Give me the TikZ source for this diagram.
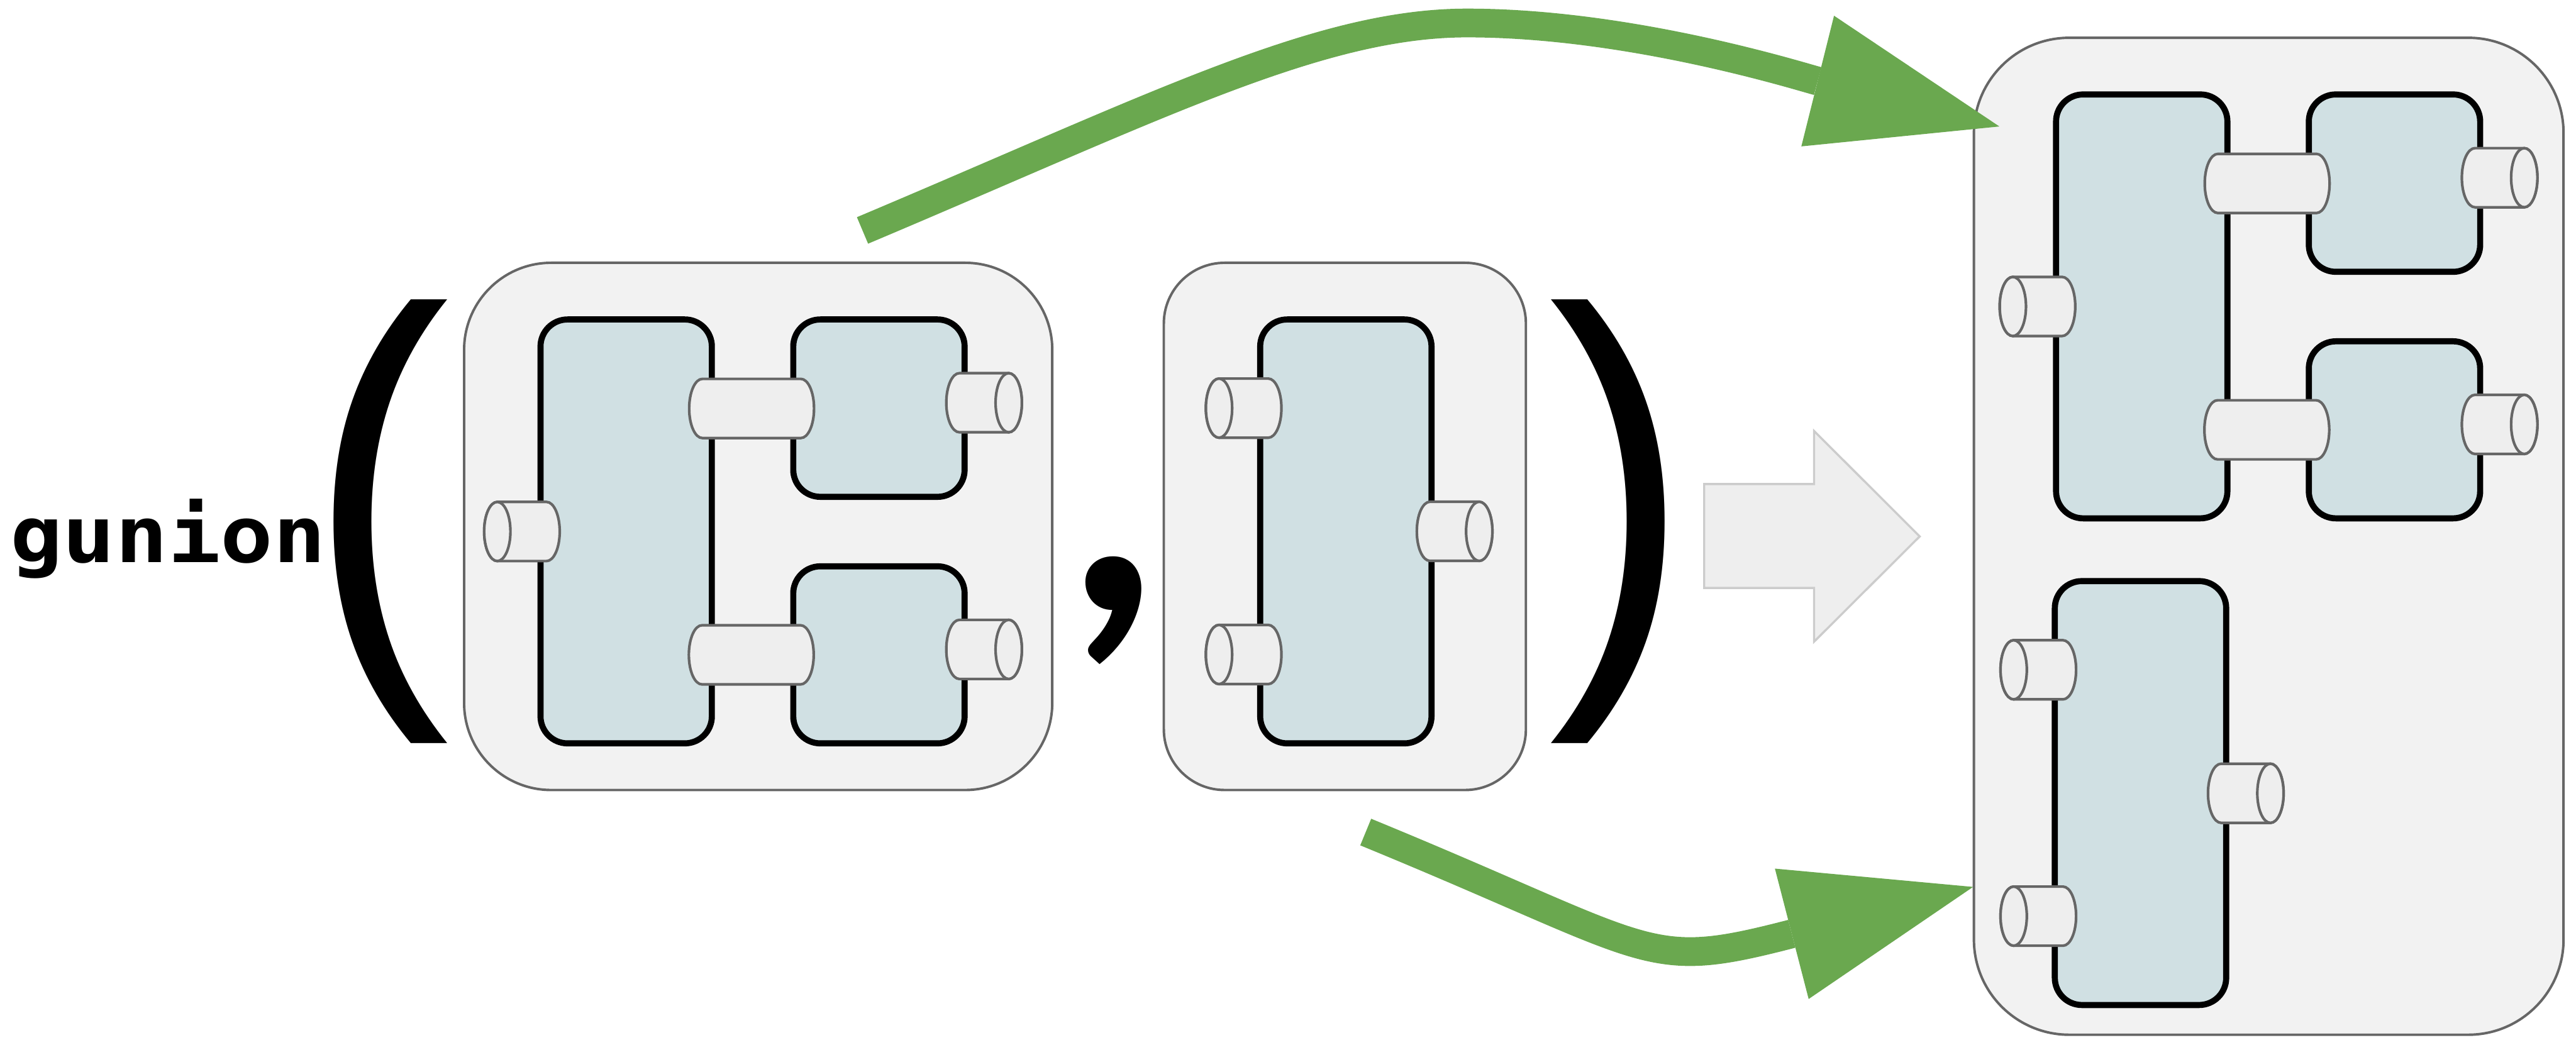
\documentclass[tikz,border=0pt]{standalone}
\usepackage{fontspec}
\usepackage{tikz}
\usetikzlibrary{arrows.meta,positioning}
\newfontfamily\codefont{DejaVu Sans Mono}
\newfontfamily\parenfont{Liberation Sans}
\newfontfamily\commafont{Lato}
\definecolor{GrpF}{HTML}{F2F2F2}
\definecolor{GrpD}{HTML}{666666}
\definecolor{CmpF}{HTML}{D0E0E3}
\definecolor{PrtF}{HTML}{EEEEEE}
\definecolor{Leaf}{HTML}{6AA84F}
\definecolor{ArrD}{HTML}{CCCCCC}

\begin{document}
\begin{tikzpicture}[x=1pt,y=-1pt,
    grp/.style={draw=GrpD,fill=GrpF,line width=1.5pt,inner sep=0pt},
    cmp/.style={draw=black,fill=CmpF,line width=3.7pt,rounded corners=16.5pt,
      inner sep=0pt,minimum width=104.3pt},
    prt/.style={draw=GrpD,fill=PrtF,line width=1.6pt},
    flow/.style={draw=Leaf,line width=17.5pt,
      -{Triangle[length=114pt,width=82pt,line width=0pt]}},
    punct/.style={inner sep=0pt},
    paren/.style={punct,xscale=0.9,font={\parenfont\fontsize{290}{300}\selectfont}},
    port/.pic={
      \filldraw[prt] (-15,-18) -- (15,-18) arc[start angle=-90,end angle=90,x radius=8,y radius=18]
        -- (-15,18) arc[start angle=90,end angle=270,x radius=8,y radius=18] -- cycle;
      \draw[prt] (15,0) ellipse[x radius=8,y radius=18];
    },
    link/.pic={
      \filldraw[prt] (-30,-18) -- (30,-18) arc[start angle=-90,end angle=90,x radius=8,y radius=18]
        -- (-30,18) arc[start angle=90,end angle=270,x radius=8,y radius=18] -- cycle;
    }]
  \fill[white] (0,0) rectangle (1568,639);

  % gunion ( ... , ... )
  \node[punct,font={\codefont\bfseries\fontsize{47.5}{50}\selectfont},xscale=1.12,anchor=base west] (fn) at (6,342.6) {gunion};
  \node[paren] (lp) at (230.5,317.4) {(};
  \node[punct,font={\commafont\bfseries\fontsize{230}{240}\selectfont}] (cm) at (678,371.9) {,};
  \node[paren] (rp) at (986,317.45) {)};

  % first graph
  \node[grp,rounded corners=53pt,minimum width=358pt,minimum height=321pt] (g1) at (461.5,320.5) {};
  \node[cmp,minimum height=258.1pt] (cA) at (381.15,323.55) {};
  \node[cmp,minimum height=108pt] (cB) at (535,248.5) {};
  \node[cmp,minimum height=107.8pt] (cC) at (535,398.7) {};
  \pic[xscale=-1] at (317.7,323.6) {port};
  \pic at (457.5,248.7) {link};
  \pic at (599,245.2) {port};
  \pic at (457.3,398.7) {link};
  \pic at (599,395.4) {port};

  % second graph
  \node[grp,rounded corners=37pt,minimum width=220.4pt,minimum height=321pt] (g2) at (818.6,320.5) {};
  \node[cmp,minimum height=258.1pt] (cD) at (819.2,323.55) {};
  \pic[xscale=-1] at (757,248.5) {port};
  \pic at (885.4,323.5) {port};
  \pic[xscale=-1] at (757,398.5) {port};

  % result
  \filldraw[draw=ArrD,fill=PrtF,line width=1.3pt] (1037.3,294.7) -- (1104.2,294.7) -- (1104.2,262.4)
    -- (1168.5,326.6) -- (1104.2,390.7) -- (1104.2,358) -- (1037.3,358) -- cycle;
  \node[grp,rounded corners=58pt,minimum width=358.9pt,minimum height=607pt] (g3) at (1380.95,326.5) {};
  \node[cmp,minimum height=258.1pt] (cE) at (1303.65,186.55) {};
  \node[cmp,minimum height=108pt] (cF) at (1457.5,111.5) {};
  \node[cmp,minimum height=107.8pt] (cG) at (1457.5,261.7) {};
  \pic[xscale=-1] at (1240.2,186.6) {port};
  \pic at (1380,111.7) {link};
  \pic at (1521.5,108.2) {port};
  \pic at (1379.8,261.7) {link};
  \pic at (1521.5,258.4) {port};
  \node[cmp,minimum height=258.1pt] (cH) at (1302.9,482.85) {};
  \pic[xscale=-1] at (1240.7,407.8) {port};
  \pic at (1367,483) {port};
  \pic[xscale=-1] at (1240.7,557.8) {port};

  % green arrows
  \coordinate (s1) at (525,140.3);
  \coordinate (k1) at (893,14);
  \coordinate (e1) at (1217,77);
  \draw[flow] (s1) .. controls (705,64.4) and (803,14) .. (k1) .. controls (993,14) and (1097,47) .. (e1);
  \coordinate (s2) at (831.3,506.6);
  \coordinate (e2) at (1201,540);
  \draw[flow] (s2) .. controls (1010,580) and (1000,592) .. (e2);
\end{tikzpicture}
\end{document}
